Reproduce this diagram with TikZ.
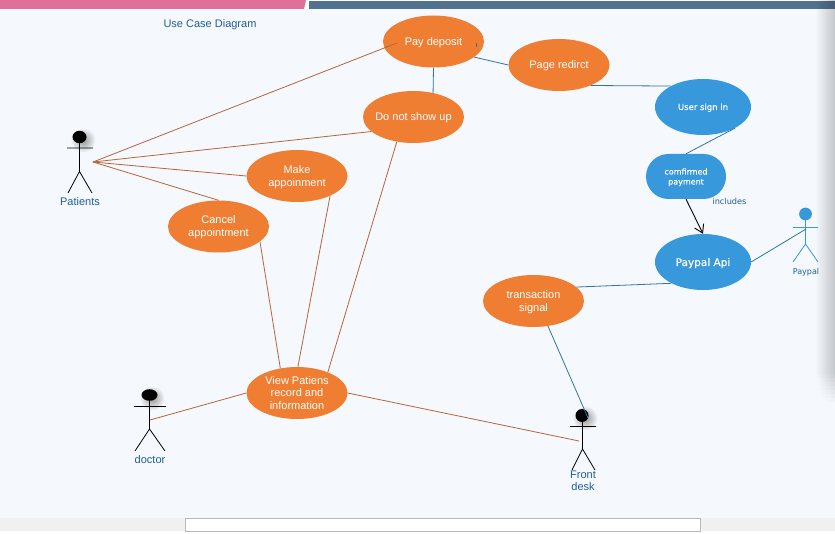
\documentclass[tikz,border=0pt]{standalone}
\usepackage{fontspec}
\setmainfont{Liberation Sans}
\newfontfamily\lucid[FakeBold=0.3]{DejaVu Sans}
\newfontfamily\lucidr{DejaVu Sans}
\usetikzlibrary{shapes.geometric,shapes.misc,arrows.meta,fadings}
\definecolor{bgc}{HTML}{F5F8FD}
\definecolor{orng}{HTML}{F07E32}
\definecolor{blu}{HTML}{3798DB}
\definecolor{brownl}{HTML}{B4673A}
\definecolor{bluel}{HTML}{2E75A8}
\definecolor{txtb}{HTML}{1F5F99}
\definecolor{pinkb}{HTML}{E0709A}
\definecolor{steelb}{HTML}{52738F}
\tikzfading[name=fadeedge,left color=transparent!100,right color=transparent!0]
\newcommand\onel[2][3.6]{\raisebox{-#1pt}[0pt][0pt]{\makebox[0pt]{#2}}}
\tikzset{
  uc/.style={ellipse,inner sep=0pt,text=white,align=center,font=\fontsize{11}{13}\selectfont},
  ucO/.style={uc,fill=orng,minimum width=101pt,minimum height=52pt},
  ucB/.style={uc,fill=blu,minimum width=96pt,minimum height=56pt,font=\lucid\fontsize{8.5}{11}\selectfont},
  lineO/.style={draw=brownl,line width=0.8pt},
  lineB/.style={draw=bluel,line width=0.8pt},
  lab/.style={text=txtb,align=center,inner sep=0pt,font=\fontsize{11}{12.5}\selectfont},
  limb/.style={draw=black,line width=0.8pt},
  limbB/.style={draw=blu,line width=0.8pt},
  glow/.style={inner color=black!42,outer color=bgc}
}
\begin{document}
\begin{tikzpicture}[x=1pt,y=-1pt]
\useasboundingbox (0,0) rectangle (835,534);
% page
\fill[white] (0,0) rectangle (835,534);
\fill[bgc] (0,9) rectangle (835,518);
\fill[pinkb] (0,0) -- (306,0) -- (304,9) -- (0,9) -- cycle;
\fill[steelb] (309,1) rectangle (835,9);
\fill[gray!12] (0,518) rectangle (835,531);
\fill[white,draw=black!28,line width=0.7pt] (185.5,518.5) rectangle (700.5,531);
% right edge shade
\fill[black,opacity=0.2,path fading=fadeedge] (815,0) rectangle (835,370);
\foreach \i in {0,...,7}{
  \fill[black,opacity={0.2-\i*0.025},path fading=fadeedge] (815+\i,370+\i*4) rectangle (835,374+\i*4);
}
% use cases
\node[lab] (title) at (210,25) {Use Case Diagram};
\node[ucO] (pay) at (433.5,41.5) {\onel{Pay deposit}};
\node[ucO] (noshow) at (413.5,117) {\onel{Do not show up}};
\node[ucO] (page) at (559,65) {\onel{Page redirct}};
\node[ucO] (make) at (297,176) {\onel{Make}\\\onel{appoinment}};
\node[ucO] (cancel) at (218.5,226.5) {\onel{Cancel}\\\onel{appointment}};
\node[ucO,font=\fontsize{11}{12.5}\selectfont] (view) at (297,393) {\onel{View Patiens}\\\onel{record and}\\\onel{information}};
\node[ucO] (trans) at (533.5,301) {\onel{transaction}\\\onel{signal}};
\node[ucB] (sign) at (703,107) {\onel[3]{User sign in}};
\node[rounded rectangle,fill=blu,inner sep=0pt,minimum width=80pt,minimum height=45pt,text=white,align=center,font=\lucid\fontsize{8}{10}\selectfont] (conf) at (686,176.5) {\onel[3]{comfirmed}\\\onel[3]{payment}};
\node[ucB,font=\lucid\fontsize{10.5}{13}\selectfont] (api) at (703,262) {\onel[4]{Paypal Api}};
\node[text=txtb,inner sep=0pt,font=\lucidr\fontsize{8.2}{9}\selectfont] (incl) at (729.5,201) {includes};
% actors
\shade[glow] (83,140) circle (12.5);
\fill[black] (79.5,137) ellipse (7 and 6.2);
\draw[limb] (67,148) -- (93,148) (79.5,143) -- (79.5,171.5) -- (68,193) (79.5,171.5) -- (92,193);
\node[lab] (patients) at (80,202) {Patients};
\coordinate (hub) at (93,162);

\shade[glow] (152,398) circle (12.5);
\fill[black] (149.5,395) ellipse (8 and 5.8);
\draw[limb] (134,406.5) -- (166,406.5) (149.5,400) -- (149.5,429) -- (135,451) (149.5,429) -- (165,451);
\node[lab] (doctor) at (150,460) {doctor};
\coordinate (dochub) at (150,420);

\shade[glow] (585,418) circle (12.5);
\fill[black] (582,415.5) circle (6.5);
\draw[limb] (570,426.5) -- (596,426.5) (582.5,421) -- (582.5,449) -- (572,470) (582.5,449) -- (595,470);
\node[lab] (front) at (583,481) {Front\\desk};
\coordinate (fronthub) at (579,441);
\coordinate (fronthead) at (588,418);

\fill[blu] (805.5,214) circle (6.4);
\draw[limbB] (793,227.5) -- (818,227.5) (805.5,220) -- (805.5,244) -- (793,262) (805.5,244) -- (818,262);
\node[text=txtb,inner sep=0pt,font=\lucidr\fontsize{8}{9}\selectfont] (paypal) at (806,272) {Paypal};
\coordinate (paypalhub) at (806,229);
% connectors
\coordinate (payin) at (397,43);
\draw[lineO] (hub) -- (payin);
\draw[lineO] (hub) -- (noshow.199);
\draw[lineO] (hub) -- (make.west);
\draw[lineO] (hub) -- (cancel.north);
\draw[lineO] (cancel.-20) -- (view.124);
\draw[lineO] (make.-31) -- (view.88);
\draw[lineO] (noshow.236) -- (view.34);
\draw[lineO] (view.west) -- (dochub);
\draw[lineO] (view.east) -- (fronthub);
\draw[lineB] (pay.south) -- (noshow.51);
\draw[lineB] (pay.-21) -- (page.west);
\coordinate (ticka) at (476.5,43);
\coordinate (tickb) at (476.5,47.5);
\draw[lineB] (ticka) -- (tickb);
\draw[lineB] (page.-33) -- (sign.147);
\draw[lineB] (sign.-33) -- (conf.north);
\draw[black,line width=0.9pt,-{Straight Barb[length=8pt,width=10pt]}] (conf.south) -- (api.north);
\draw[lineB] (api.east) -- (paypalhub);
\draw[lineB] (trans.18) -- (api.214);
\draw[lineB] (trans.-60) -- (fronthead);
\end{tikzpicture}
\end{document}
